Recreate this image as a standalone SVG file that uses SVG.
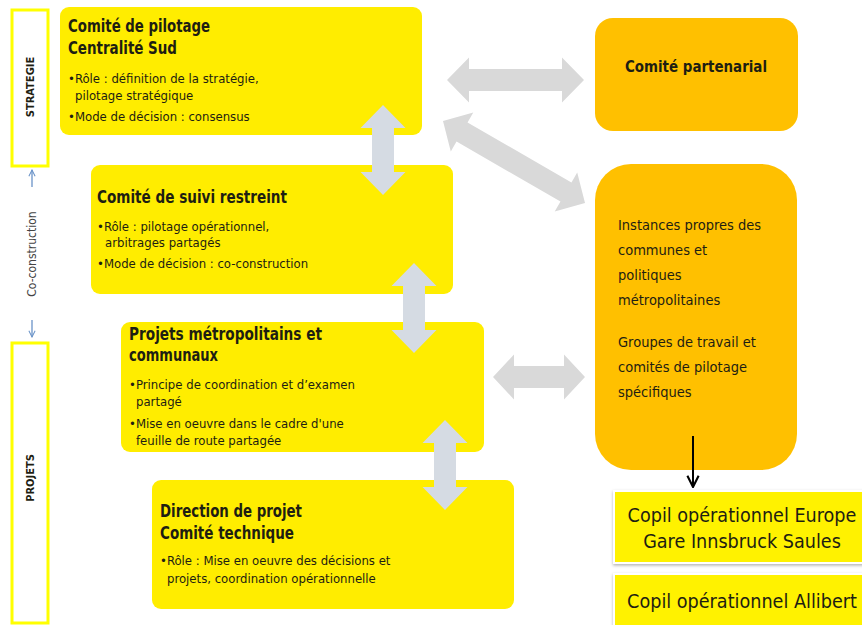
<svg xmlns="http://www.w3.org/2000/svg" width="862" height="625" viewBox="0 0 862 625">
<defs>
<style>
.t{font-family:"Liberation Sans Narrow","DejaVu Sans Condensed","Liberation Sans",sans-serif;fill:#1e1e12;}
.h{font-size:17px;font-weight:bold;}
.b{font-size:13px;}
.y{fill:#FFED00;}
.o{fill:#FFC000;}
.frame{fill:none;stroke:#FFFF00;stroke-width:3;}
.ga{fill:#D9D9D9;}
.va{fill:#D5DBE3;}
.cp{fill:#FFF200;stroke:#fff;stroke-width:2;}
</style>
<filter id="sh" x="-10%" y="-10%" width="120%" height="130%"><feDropShadow dx="0" dy="1.5" stdDeviation="1.5" flood-color="#000" flood-opacity="0.3"/></filter>
<marker id="ah" viewBox="0 0 10 10" refX="9" refY="5" markerWidth="7" markerHeight="7" orient="auto"><path d="M1,1 L9,5 L1,9" fill="none" stroke="#000" stroke-width="1.5"/></marker>
<marker id="bh" viewBox="0 0 10 10" refX="9" refY="5" markerWidth="6" markerHeight="6" orient="auto"><path d="M1,1 L9,5 L1,9" fill="none" stroke="#6A93C8" stroke-width="1.3"/></marker>
</defs>
<rect width="862" height="625" fill="#fff"/>

<g id="side">
<rect class="frame" x="12" y="10" width="36" height="156"/>
<text class="t" x="0" y="0" transform="translate(34,87) rotate(-90)" text-anchor="middle" font-size="11" font-weight="bold">STRATEGIE</text>
<rect class="frame" x="12" y="343" width="36" height="280"/>
<text class="t" x="0" y="0" transform="translate(34,478) rotate(-90)" text-anchor="middle" font-size="11" font-weight="bold">PROJETS</text>
<text class="t" x="0" y="0" transform="translate(36,254) rotate(-90)" text-anchor="middle" font-size="12" style="fill:#444">Co-construction</text>
<line x1="32" y1="187" x2="32" y2="170" stroke="#6A93C8" stroke-width="1.3" marker-end="url(#bh)"/>
<line x1="32" y1="320" x2="32" y2="337" stroke="#6A93C8" stroke-width="1.3" marker-end="url(#bh)"/>
</g>

<g id="copil">
<rect class="y" x="60" y="7" width="362" height="128" rx="9"/>
<text class="t h" x="68" y="32" textLength="142" lengthAdjust="spacingAndGlyphs">Comité de pilotage</text>
<text class="t h" x="68" y="54" textLength="109" lengthAdjust="spacingAndGlyphs">Centralité Sud</text>
<text class="t b" x="68" y="83">•Rôle : définition de la stratégie,</text>
<text class="t b" x="75" y="100">pilotage stratégique</text>
<text class="t b" x="68" y="121">•Mode de décision : consensus</text>
</g>

<g id="suivi">
<rect class="y" x="91" y="165" width="362" height="129" rx="9"/>
<text class="t h" x="97" y="203" textLength="190" lengthAdjust="spacingAndGlyphs">Comité de suivi restreint</text>
<text class="t b" x="97" y="231">•Rôle : pilotage opérationnel,</text>
<text class="t b" x="105" y="247">arbitrages partagés</text>
<text class="t b" x="97" y="268">•Mode de décision : co-construction</text>
</g>

<g id="projets">
<rect class="y" x="121" y="322" width="363" height="130" rx="9"/>
<text class="t h" x="129" y="340" textLength="193" lengthAdjust="spacingAndGlyphs">Projets métropolitains et</text>
<text class="t h" x="129" y="361" textLength="89" lengthAdjust="spacingAndGlyphs">communaux</text>
<text class="t b" x="129" y="389">•Principe de coordination et d’examen</text>
<text class="t b" x="136" y="406">partagé</text>
<text class="t b" x="129" y="428">•Mise en oeuvre dans le cadre d'une</text>
<text class="t b" x="136" y="445">feuille de route partagée</text>
</g>

<g id="direction">
<rect class="y" x="152" y="480" width="362" height="129" rx="9"/>
<text class="t h" x="160" y="517" textLength="142" lengthAdjust="spacingAndGlyphs">Direction de projet</text>
<text class="t h" x="160" y="539" textLength="134" lengthAdjust="spacingAndGlyphs">Comité technique</text>
<text class="t b" x="160" y="565">•Rôle : Mise en oeuvre des décisions et</text>
<text class="t b" x="167" y="583">projets, coordination opérationnelle</text>
</g>

<g id="partenarial">
<rect class="o" x="595" y="18" width="203" height="113" rx="18"/>
<text class="t" x="625" y="72" font-size="16.5" font-weight="bold" textLength="142" lengthAdjust="spacingAndGlyphs">Comité partenarial</text>
</g>

<g id="instances">
<rect class="o" x="595" y="164" width="202" height="306" rx="36"/>
<g class="t" font-size="14.5">
<text x="618" y="230">Instances propres des</text>
<text x="618" y="255">communes et</text>
<text x="618" y="280">politiques</text>
<text x="618" y="305">métropolitaines</text>
<text x="618" y="347">Groupes de travail et</text>
<text x="618" y="372">comités de pilotage</text>
<text x="618" y="397">spécifiques</text>
</g>
</g>

<g id="copil-europe">
<rect class="cp" x="614" y="491" width="260" height="72" filter="url(#sh)"/>
<text class="t" x="742" y="522" text-anchor="middle" font-size="19.6">Copil opérationnel Europe</text>
<text class="t" x="742" y="548" text-anchor="middle" font-size="19.6">Gare Innsbruck Saules</text>
</g>

<g id="copil-allibert">
<rect class="cp" x="614" y="574" width="260" height="60" filter="url(#sh)"/>
<text class="t" x="742" y="608" text-anchor="middle" font-size="19.6">Copil opérationnel Allibert</text>
</g>

<g id="connectors">
<polygon class="va" points="383,105 405.5,128 394,128 394,172 405.5,172 383,195 360.5,172 372,172 372,128 360.5,128"/>
<polygon class="va" points="414,263 436.5,286 425,286 425,330 436.5,330 414,353 391.5,330 403,330 403,286 391.5,286"/>
<polygon class="va" points="445,420 467.5,443 456,443 456,487 467.5,487 445,510 422.5,487 434,487 434,443 422.5,443"/>
<polygon class="ga" points="447,80 469,57.5 469,69 562,69 562,57.5 584,80 562,102.5 562,91 469,91 469,102.5"/>
<polygon class="ga" points="493,377 514,354.5 514,366 564,366 564,354.5 585,377 564,399.5 564,388 514,388 514,399.5"/>
<polygon class="ga" transform="translate(514,162) rotate(30)" points="-82,0 -60,-22.5 -60,-11 60,-11 60,-22.5 82,0 60,22.5 60,11 -60,11 -60,22.5"/>
<line x1="693" y1="436" x2="693" y2="487" stroke="#000" stroke-width="2" marker-end="url(#ah)"/>
</g>
</svg>
